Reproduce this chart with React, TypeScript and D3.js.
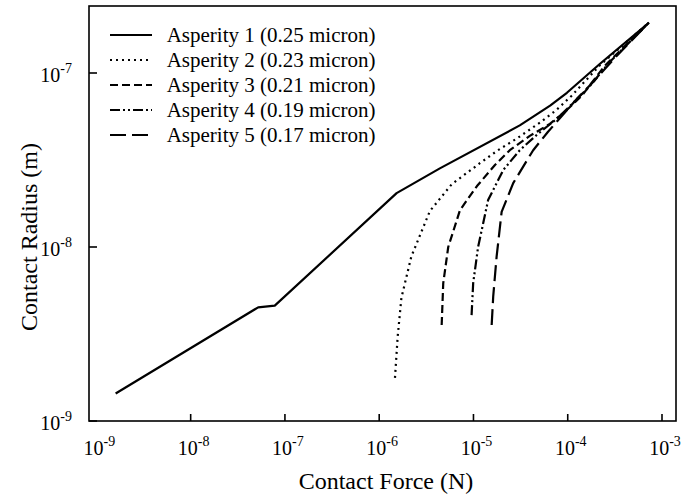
import React from "react";
import * as d3 from "d3";

// values (force in N, radius in m)
const asperity1F = [1.6e-9, 5.2e-8, 7.8e-8, 1.53e-6, 4.4e-6, 3.1e-5, 6.5e-5, 9.8e-5, 2.2e-4, 7.3e-4];
const asperity1R = [1.44e-9, 4.5e-9, 4.6e-9, 2.04e-8, 2.83e-8, 5.0e-8, 6.5e-8, 7.7e-8, 1.13e-7, 1.95e-7];

const asperity2F = [1.47e-6, 1.57e-6, 1.72e-6, 2.19e-6, 3.45e-6, 5.9e-6, 1.17e-5, 1.82e-5, 2.88e-5, 5.1e-5, 7.5e-5, 1.1e-4, 2.2e-4, 7.2e-4];
const asperity2R = [1.77e-9, 3.05e-9, 5.1e-9, 8.8e-9, 1.61e-8, 2.3e-8, 3.03e-8, 3.6e-8, 4.2e-8, 5.2e-8, 6.1e-8, 7.4e-8, 1.11e-7, 1.94e-7];

const asperity3F = [4.6e-6, 4.78e-6, 5.4e-6, 7.2e-6, 1.09e-5, 1.69e-5, 2.43e-5, 3.96e-5, 6.46e-5, 9.55e-5, 1.41e-4, 2.47e-4, 7.2e-4];
const asperity3R = [3.56e-9, 6.2e-9, 1.0e-8, 1.63e-8, 2.24e-8, 2.96e-8, 3.6e-8, 4.35e-8, 5.1e-8, 6.05e-8, 7.4e-8, 1.1e-7, 1.94e-7];

const asperity4F = [9.55e-6, 9.93e-6, 1.12e-5, 1.43e-5, 2.07e-5, 3.1e-5, 4.8e-5, 7.5e-5, 1.1e-4, 1.71e-4, 2.8e-4, 7.2e-4];
const asperity4R = [4.06e-9, 6.2e-9, 1.0e-8, 1.86e-8, 2.77e-8, 3.6e-8, 4.46e-8, 5.4e-8, 6.6e-8, 8.4e-8, 1.16e-7, 1.94e-7];

const asperity5F = [1.56e-5, 1.62e-5, 1.76e-5, 1.99e-5, 2.64e-5, 4.3e-5, 6.15e-5, 8.65e-5, 1.28e-4, 1.94e-4, 3.15e-4, 7.2e-4];
const asperity5R = [3.56e-9, 5.2e-9, 8.8e-9, 1.59e-8, 2.33e-8, 3.6e-8, 4.58e-8, 5.66e-8, 7.2e-8, 9.1e-8, 1.22e-7, 1.94e-7];

const seriesNames = [
  "Asperity 1 (0.25 micron)",
  "Asperity 2 (0.23 micron)",
  "Asperity 3 (0.21 micron)",
  "Asperity 4 (0.19 micron)",
  "Asperity 5 (0.17 micron)",
];

const forceExponents = [-9, -8, -7, -6, -5, -4, -3];
const radiusExponents = [-9, -8, -7];

const dashes = ["none", "2,4", "8,4", "10,3,2,3,2,3", "16,6"];

const W = 684;
const H = 499;
const box = { left: 89, right: 676, top: 6, bottom: 421 };
const font = "'Liberation Serif', 'Times New Roman', serif";

const x = d3.scaleLog().domain([1e-9, 1e-3]).range([96.4, 662]);
const y = d3.scaleLog().domain([1e-9, 1e-7]).range([421, 73]);

const App = () => {
  const allF = [asperity1F, asperity2F, asperity3F, asperity4F, asperity5F];
  const allR = [asperity1R, asperity2R, asperity3R, asperity4R, asperity5R];

  const line = d3
    .line<[number, number]>()
    .x((d) => x(d[0]))
    .y((d) => y(d[1]));

  return (
    <svg
      width={W}
      height={H}
      style={{ position: "absolute", left: 0, top: 0, background: "#fff" }}
      fontFamily={font}
    >
      {/* curves */}
      {allF.map((fs, i) => (
        <path
          key={i}
          d={line(fs.map((f, j) => [f, allR[i][j]]))!}
          fill="none"
          stroke="#000"
          strokeWidth={2.2}
          strokeDasharray={dashes[i]}
          strokeLinejoin="round"
        />
      ))}

      {/* frame */}
      <rect
        x={box.left}
        y={box.top}
        width={box.right - box.left}
        height={box.bottom - box.top}
        fill="none"
        stroke="#000"
        strokeWidth={1.6}
      />

      {/* x ticks + labels */}
      {forceExponents.map((e) => {
        const px = x(Math.pow(10, e));
        return (
          <g key={e}>
            {e > -9 && (
              <line x1={px} x2={px} y1={box.bottom} y2={box.bottom - 7} stroke="#000" strokeWidth={1.6} />
            )}
            <text x={px + 3} y={455} fontSize={20} textAnchor="middle" fill="#000">
              10<tspan fontSize={14} dy={-9}>{e}</tspan>
            </text>
          </g>
        );
      })}

      {/* y ticks + labels */}
      {radiusExponents.map((e) => {
        const py = y(Math.pow(10, e));
        return (
          <g key={e}>
            <line x1={box.left} x2={box.left + 8} y1={py} y2={py} stroke="#000" strokeWidth={1.6} />
            <text x={72} y={py + 8.5} fontSize={20} textAnchor="end" fill="#000">
              10<tspan fontSize={14} dy={-9}>{e}</tspan>
            </text>
          </g>
        );
      })}

      {/* axis titles */}
      <text x={386} y={489} fontSize={24} textAnchor="middle" fill="#000">
        Contact Force (N)
      </text>
      <text
        transform="translate(37,237) rotate(-90)"
        fontSize={24}
        textAnchor="middle"
        fill="#000"
      >
        Contact Radius (m)
      </text>

      {/* legend */}
      {seriesNames.map((name, i) => {
        const ly = 35 + i * 25;
        return (
          <g key={name}>
            <line x1={110} x2={152} y1={ly} y2={ly} stroke="#000" strokeWidth={2.2} strokeDasharray={dashes[i]} />
            <text x={166.7} y={ly + 6.5} fontSize={21} fill="#000">
              {name}
            </text>
          </g>
        );
      })}
    </svg>
  );
};

export default App;
